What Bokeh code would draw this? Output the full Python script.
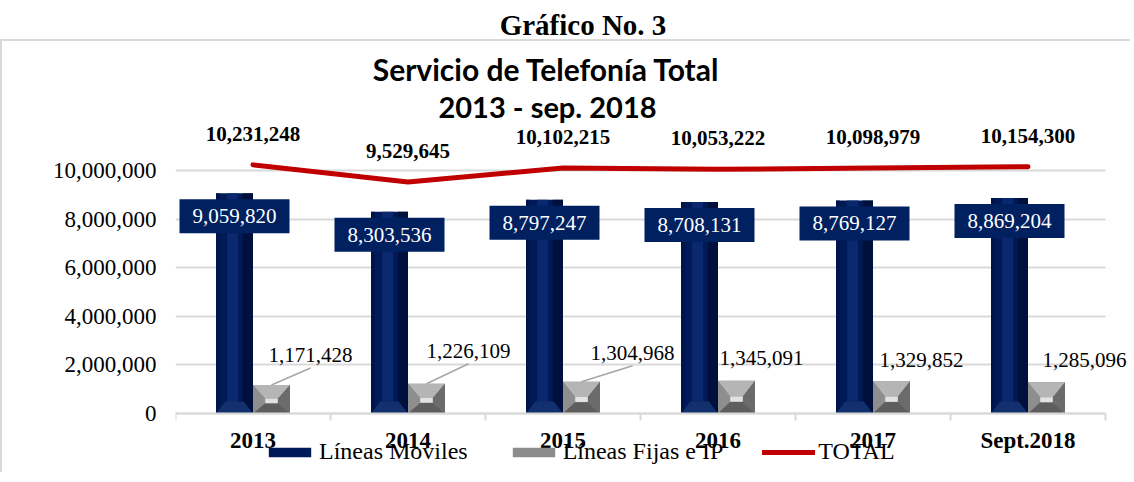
from bokeh.plotting import figure
from bokeh.models import (Range1d, FixedTicker, NumeralTickFormatter, Legend, LegendItem,
                          Label, Div, ColumnDataSource)
from bokeh.layouts import column
from bokeh.core.properties import value
from bokeh.embed import file_html
from bokeh.resources import INLINE
import numpy as np

# ---------------- data ----------------
categories = ["2013", "2014", "2015", "2016", "2017", "Sept.2018"]
lineas_moviles = [9059820, 8303536, 8797247, 8708131, 8769127, 8869204]
lineas_fijas = [1171428, 1226109, 1304968, 1345091, 1329852, 1285096]
total = [10231248, 9529645, 10102215, 10053222, 10098979, 10154300]
y_ticks = [0, 2000000, 4000000, 6000000, 8000000, 10000000]

# label placement (screen px, relative to bar top) and leader flags
fijas_dx = [39, 42, 51, 25, 30, 38]
fijas_dy = [-30, -33, -29, -23, -21, -22]
fijas_leader = [True, True, True, False, False, False]

# ---------------- geometry ----------------
W, H = 1130, 433
MB_L, MB_R, MB_T, MB_B = 173, 0, 10, 0
ZERO_FROM_BOTTOM = 61          # px between frame bottom and the zero line
frame_w = W - MB_L - MB_R
frame_h = H - MB_T - MB_B
PX_X = 155.0
x_start = -0.5
x_end = x_start + frame_w / PX_X
px_per_y_unit = 24.3 / 1e6
y_start = -ZERO_FROM_BOTTOM / px_per_y_unit
y_end = y_start + frame_h / px_per_y_unit
n = len(categories)

SERIF = value("Liberation Serif")

p = figure(width=W, height=H, output_backend="svg", toolbar_location=None,
           x_range=Range1d(x_start, x_end), y_range=Range1d(y_start, y_end),
           min_border_left=MB_L, min_border_right=MB_R,
           min_border_top=MB_T, min_border_bottom=MB_B)
p.outline_line_color = None
p.background_fill_color = "white"
p.border_fill_color = "white"
p.styles = {"border-top": "2px solid #D9D9D9", "border-left": "2px solid #D9D9D9"}

x = np.arange(n, dtype=float)
bw = 37 / PX_X
off = 18.5 / PX_X

# ---- Líneas Moviles bars (navy with shading) ----
xm = x - off
src_m = ColumnDataSource(dict(x=xm, top=lineas_moviles))
r_m = p.vbar(x="x", top="top", width=bw, source=src_m, fill_color="#001A57", line_color=None)
p.vbar(x=xm - bw * 0.05, top=lineas_moviles, width=bw * 0.3, fill_color="#0B2A70",
       line_color=None, fill_alpha=0.9)
p.vbar(x=xm + bw * 0.36, top=lineas_moviles, width=bw * 0.28, fill_color="#00103A",
       line_color=None, fill_alpha=0.9)
p.vbar(x=xm - bw * 0.45, top=lineas_moviles, width=bw * 0.1, fill_color="#001247",
       line_color=None, fill_alpha=0.8)
hb = 12 / px_per_y_unit
bx, by = [], []
for xi in xm:
    bx.append([xi - bw / 2, xi + bw / 2, xi + bw / 4, xi - bw / 4])
    by.append([0, 0, hb, hb])
p.patches(bx, by, fill_color="#13306E", line_color=None)

# ---- Líneas Fijas e IP bars (gray pyramids) ----
xf = x + off
src_f = ColumnDataSource(dict(x=xf, top=lineas_fijas))
r_f = p.vbar(x="x", top="top", width=bw, source=src_f, fill_color="#8C8C8C", line_color=None)
tops_x, tops_y, lefts_x, lefts_y, rights_x, rights_y, bots_x, bots_y = [], [], [], [], [], [], [], []
inner = []
for xi, v in zip(xf, lineas_fijas):
    x0, x1 = xi - bw / 2, xi + bw / 2
    ix0, ix1 = xi - bw * 0.17, xi + bw * 0.17
    iy0, iy1 = v * 0.36, v * 0.52
    tops_x.append([x0, x1, ix1, ix0]); tops_y.append([v, v, iy1, iy1])
    lefts_x.append([x0, ix0, ix0, x0]); lefts_y.append([0, iy0, iy1, v])
    rights_x.append([x1, ix1, ix1, x1]); rights_y.append([0, iy0, iy1, v])
    bots_x.append([x0, x1, ix1, ix0]); bots_y.append([0, 0, iy0, iy0])
    inner.append((xi, (iy0 + iy1) / 2, iy1 - iy0))
p.patches(tops_x, tops_y, fill_color="#B5B5B5", line_color=None)
p.patches(lefts_x, lefts_y, fill_color="#8E8E8E", line_color=None)
p.patches(rights_x, rights_y, fill_color="#6B6B6B", line_color=None)
p.patches(bots_x, bots_y, fill_color="#5E5E5E", line_color=None)
p.rect(x=[i[0] for i in inner], y=[i[1] for i in inner], width=bw * 0.34,
       height=[i[2] for i in inner], fill_color="#E2E2E2", line_color=None)

# ---- TOTAL line ----
r_t = p.line(x, total, line_color="#C00000", line_width=5, line_cap="round", line_join="round")

# ---- labels ----
p.text(x=x, y=total, text=[f"{v:,}" for v in total], text_font=SERIF,
       text_font_size="21px", text_font_style="bold", text_color="black",
       text_align="center", text_baseline="middle", y_offset=-31)

p.text(x=xm, y=lineas_moviles, text=[f"{v:,}" for v in lineas_moviles], text_font=SERIF,
       text_font_size="21px", text_color="white", text_align="center",
       text_baseline="middle", y_offset=23,
       background_fill_color="#002060", padding=dict(left=13, right=13, top=10, bottom=10))

lx = [xi + dx / PX_X for xi, dx in zip(xf, fijas_dx)]
ly = [v - dy / px_per_y_unit for v, dy in zip(lineas_fijas, fijas_dy)]
p.text(x=lx, y=ly, text=[f"{v:,}" for v in lineas_fijas], text_font=SERIF,
       text_font_size="21px", text_color="black", text_align="center",
       text_baseline="middle")
sx0 = [xi for xi, f in zip(xf, fijas_leader) if f]
sy0 = [v for v, f in zip(lineas_fijas, fijas_leader) if f]
sx1 = [a for a, f in zip(lx, fijas_leader) if f]
sy1 = [b - 13 / px_per_y_unit for b, f in zip(ly, fijas_leader) if f]
p.segment(sx0, sy0, sx1, sy1, line_color="#A6A6A6", line_width=1.5)

# ---- chart title ----
p.add_layout(Label(x=371, y=frame_h - 17, x_units="screen", y_units="screen",
                   text="Servicio de Telefonía Total", text_font="Lato",
                   text_font_style="bold", text_font_size="30px", text_align="center",
                   text_baseline="middle", text_color="black"))
p.add_layout(Label(x=372, y=frame_h - 55, x_units="screen", y_units="screen",
                   text="2013 - sep. 2018", text_font="Lato",
                   text_font_style="bold", text_font_size="29px", text_align="center",
                   text_baseline="middle", text_color="black"))

# ---- axes & grid ----
p.xgrid.visible = False
p.ygrid.grid_line_color = "#D9D9D9"
p.ygrid.grid_line_width = 2
p.ygrid.cross_bounds = (x_start, n - 0.5)
p.yaxis.ticker = FixedTicker(ticks=y_ticks)
p.yaxis.formatter = NumeralTickFormatter(format="0,0")
p.yaxis.axis_line_color = None
p.yaxis.major_tick_line_color = None
p.yaxis.minor_tick_line_color = None
p.yaxis.major_label_standoff = 13
p.yaxis.major_label_text_font = "Liberation Serif"
p.yaxis.major_label_text_font_size = "23px"
p.yaxis.major_label_text_color = "black"

p.xaxis.fixed_location = 0
p.xaxis.ticker = FixedTicker(ticks=list(x), minor_ticks=list(np.arange(n + 1) - 0.5))
p.xaxis.bounds = (x_start, n - 0.5)
p.xaxis.major_label_overrides = {i: c for i, c in enumerate(categories)}
p.xaxis.axis_line_color = "#D9D9D9"
p.xaxis.axis_line_width = 2
p.xaxis.major_tick_line_color = None
p.xaxis.minor_tick_line_color = "#D9D9D9"
p.xaxis.minor_tick_line_width = 2
p.xaxis.minor_tick_out = 7
p.xaxis.minor_tick_in = 0
p.xaxis.major_label_standoff = 7
p.xaxis.major_label_text_font = "Liberation Serif"
p.xaxis.major_label_text_font_style = "bold"
p.xaxis.major_label_text_font_size = "23px"
p.xaxis.major_label_text_color = "black"

# ---- legend ----
legend = Legend(items=[LegendItem(label="Líneas Moviles", renderers=[r_m]),
                       LegendItem(label="Líneas Fijas e IP", renderers=[r_f]),
                       LegendItem(label="TOTAL", renderers=[r_t])],
                orientation="horizontal", location=(88, 9), padding=0, margin=0,
                spacing=39, label_standoff=3, glyph_width=53, glyph_height=12,
                label_text_font="Liberation Serif", label_text_font_size="24px",
                label_text_color="black", background_fill_alpha=0, border_line_color=None)
p.add_layout(legend, "center")

header = Div(text="Gráfico No. 3", width=W, height=29,
             styles={"text-align": "center", "font-family": "Liberation Serif",
                     "font-weight": "bold", "font-size": "29px", "line-height": "40px",
                     "text-indent": "26px", "color": "black", "width": f"{W}px"})

layout = column(header, p, spacing=0)
open("out.html", "w").write(file_html(layout, INLINE))
